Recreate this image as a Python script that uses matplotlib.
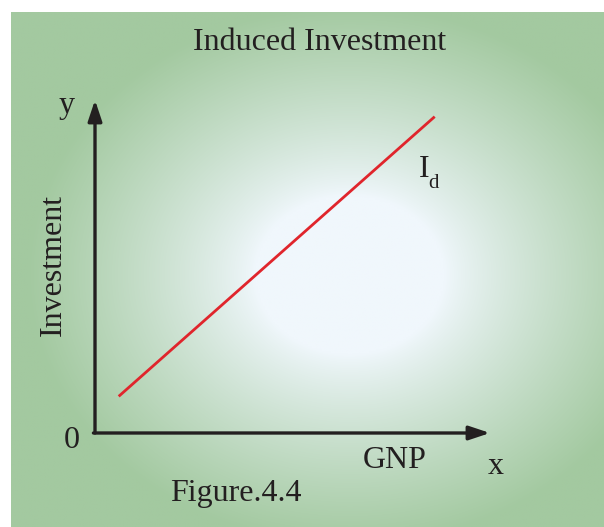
import numpy as np
import matplotlib
matplotlib.use("Agg")
import matplotlib.pyplot as plt
from matplotlib.colors import to_rgb

# Data
gnp = [0.6, 8.6]
investment = [1.1, 9.5]
title = "Induced Investment"
xlabel = "GNP"
ylabel = "Investment"
caption = "Figure.4.4"
line_label = "I"
line_sub = "d"

W, H = 604, 527
fig = plt.figure(figsize=(W / 100, H / 100), dpi=100)
fig.patch.set_facecolor("white")

# Background gradient panel (pixel coords)
bx0, by0 = 11, 12
bg = fig.add_axes([bx0 / W, 0, (W - bx0) / W, (H - by0) / H])
bg.set_axis_off()
ny, nx = 300, 340
xs = np.linspace(bx0, W, nx)
ys = np.linspace(by0, H, ny)
X, Y = np.meshgrid(xs, ys)
cx, cy = 350, 275
r = np.sqrt(((X - cx) / 340) ** 2 + ((Y - cy) / 285) ** 2)
t = np.clip((r - 0.28) / 0.67, 0, 1)
t = t ** 0.85
c0 = np.array(to_rgb("#f0f7fc"))
c1 = np.array(to_rgb("#a3c9a0"))
img = c0[None, None, :] * (1 - t[..., None]) + c1[None, None, :] * t[..., None]
bg.imshow(img, extent=[bx0, W, H, by0], aspect="auto", interpolation="bilinear")
bg.set_xlim(bx0, W)
bg.set_ylim(H, by0)

serif = ["Liberation Serif", "DejaVu Serif"]
fs = 23
tc = "#231f20"

# Data axes
ax_l, ax_b, ax_r, ax_t = 95, 433, 490, 100
ax = fig.add_axes([ax_l / W, 1 - ax_b / H, (ax_r - ax_l) / W, (ax_b - ax_t) / H])
ax.set_xlim(0, 10)
ax.set_ylim(0, 10)
ax.set_axis_off()
ax.patch.set_alpha(0)

arrow_kw = dict(arrowstyle="-|>,head_length=0.9,head_width=0.3", color=tc, lw=2.4,
                shrinkA=0, shrinkB=0, mutation_scale=14)
ax.annotate("", xy=(0, 1), xytext=(0, 0), xycoords="axes fraction",
            arrowprops=arrow_kw, annotation_clip=False)
ax.annotate("", xy=(1, 0), xytext=(-0.004, 0), xycoords="axes fraction",
            arrowprops=arrow_kw, annotation_clip=False)

ax.plot(gnp, investment, color="#e0252c", lw=2.0, solid_capstyle="butt")

# Texts (figure pixel coords)
def ftext(x, y, s, **kw):
    fig.text(x / W, 1 - y / H, s, fontfamily=serif, fontsize=kw.pop("fontsize", fs),
             color=tc, **kw)

ftext(320, 43, title, ha="center", va="center")
ftext(67, 106, "y", ha="center", va="center")
ftext(53, 265, ylabel, ha="center", va="center", rotation=90)
ftext(72, 441, "0", ha="center", va="center")
ftext(395, 461, xlabel, ha="center", va="center")
ftext(496, 467, "x", ha="center", va="center")
ftext(236, 493, caption, ha="center", va="center")
ftext(424, 170, line_label, ha="center", va="center")
ftext(433, 184, line_sub, ha="center", va="center", fontsize=15)

fig.savefig("out.png", dpi=100)
